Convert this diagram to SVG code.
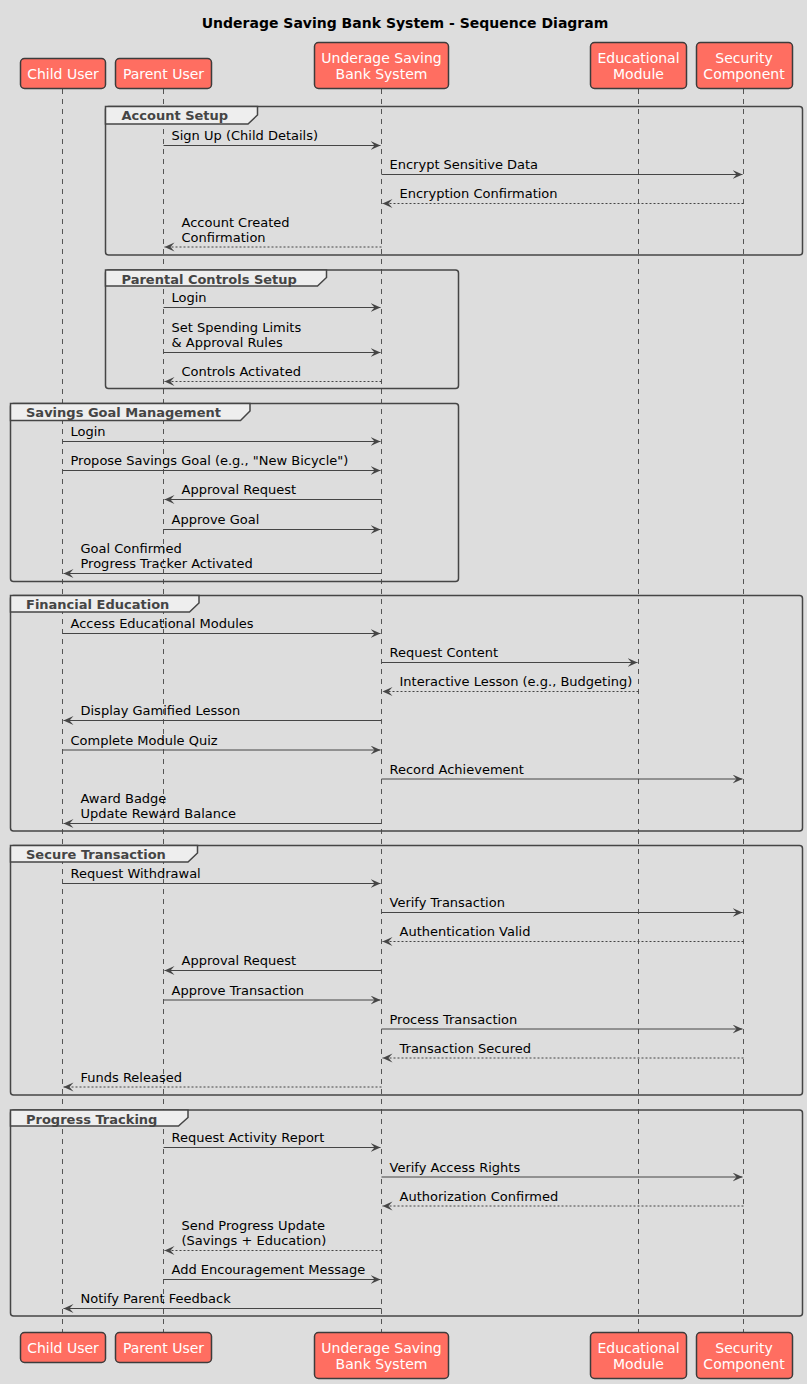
<svg xmlns="http://www.w3.org/2000/svg" width="807" height="1384" viewBox="0 0 807 1384">
  <style>
    .bg { fill: #DDDDDD; }
    .title { font-family: "DejaVu Sans", "Liberation Sans", sans-serif; font-size: 14px; font-weight: bold; fill: #000000; }
    .pbox { fill: #FF6E61; stroke: #3C3C3C; stroke-width: 1.5; }
    .ptext { font-family: "DejaVu Sans", "Liberation Sans", sans-serif; font-size: 14px; fill: #FFFFFF; text-anchor: middle; }
    .life { stroke: #555555; stroke-width: 1; stroke-dasharray: 5,5; fill: none; }
    .frame { fill: none; stroke: #454545; stroke-width: 1.5; }
    .tab { fill: #EEEEEE; stroke: #454545; stroke-width: 1.5; }
    .glabel { font-family: "DejaVu Sans", "Liberation Sans", sans-serif; font-size: 13px; font-weight: bold; fill: #454545; }
    .msg { stroke: #454545; stroke-width: 1; fill: none; marker-end: url(#arrow); }
    .ret { stroke: #454545; stroke-width: 1; fill: none; stroke-dasharray: 2,2; marker-end: url(#arrow); }
    .mtext { font-family: "DejaVu Sans", "Liberation Sans", sans-serif; font-size: 13px; fill: #000000; }
  </style>
  <defs>
    <marker id="arrow" markerUnits="userSpaceOnUse" markerWidth="12" markerHeight="10" refX="10" refY="4.5" orient="auto">
      <path d="M0,0 L10,4.5 L0,9 L4,4.5 Z" fill="#454545" stroke="none"/>
    </marker>
  </defs>

  <rect class="bg" x="0" y="0" width="807" height="1384"/>

  <text class="title" x="405" y="28" text-anchor="middle">Underage Saving Bank System - Sequence Diagram</text>

  <!-- lifelines -->
  <g id="lifelines">
    <line class="life" x1="62.5" y1="89" x2="62.5" y2="1332"/>
    <line class="life" x1="163.5" y1="89" x2="163.5" y2="1332"/>
    <line class="life" x1="381.5" y1="89" x2="381.5" y2="1332"/>
    <line class="life" x1="638.5" y1="89" x2="638.5" y2="1332"/>
    <line class="life" x1="743.5" y1="89" x2="743.5" y2="1332"/>
  </g>

  <!-- groups (fragments) -->
  <g id="group-account-setup">
    <rect class="frame" x="105.5" y="106.5" width="697" height="148.5" rx="3"/>
    <path class="tab" d="M105.5,106.5 H257.5 V115 L248,124 H105.5 Z"/>
    <text class="glabel" x="121.5" y="120">Account Setup</text>
  </g>
  <g id="group-parental-controls">
    <rect class="frame" x="105.5" y="270" width="353" height="118.5" rx="3"/>
    <path class="tab" d="M105.5,270 H326.5 V277.5 L317.5,286 H105.5 Z"/>
    <text class="glabel" x="121.5" y="283.5">Parental Controls Setup</text>
  </g>
  <g id="group-savings-goal">
    <rect class="frame" x="10.5" y="403.5" width="448" height="178" rx="3"/>
    <path class="tab" d="M10.5,403.5 H250 V411 L240.5,420.5 H10.5 Z"/>
    <text class="glabel" x="26" y="417">Savings Goal Management</text>
  </g>
  <g id="group-financial-education">
    <rect class="frame" x="10.5" y="595.5" width="792" height="235.5" rx="3"/>
    <path class="tab" d="M10.5,595.5 H199 V603 L189.5,612 H10.5 Z"/>
    <text class="glabel" x="26" y="609">Financial Education</text>
  </g>
  <g id="group-secure-transaction">
    <rect class="frame" x="10.5" y="845.5" width="792" height="249.5" rx="3"/>
    <path class="tab" d="M10.5,845.5 H197.5 V853 L188,862 H10.5 Z"/>
    <text class="glabel" x="26" y="859">Secure Transaction</text>
  </g>
  <g id="group-progress-tracking">
    <rect class="frame" x="10.5" y="1110" width="792" height="206" rx="3"/>
    <path class="tab" d="M10.5,1110 H188 V1117.5 L178.5,1126 H10.5 Z"/>
    <text class="glabel" x="26" y="1123.5">Progress Tracking</text>
  </g>

  <!-- participants (top) -->
  <g id="child-user-top">
    <rect class="pbox" x="20.5" y="58.5" width="85" height="30" rx="4"/>
    <text class="ptext" x="63" y="79">Child User</text>
  </g>
  <g id="parent-user-top">
    <rect class="pbox" x="115.5" y="58.5" width="96" height="30" rx="4"/>
    <text class="ptext" x="163.5" y="79">Parent User</text>
  </g>
  <g id="bank-system-top">
    <rect class="pbox" x="314.5" y="42.5" width="134" height="46" rx="4"/>
    <text class="ptext" x="381.5" y="63">Underage Saving</text>
    <text class="ptext" x="381.5" y="79">Bank System</text>
  </g>
  <g id="educational-module-top">
    <rect class="pbox" x="590.5" y="42.5" width="96" height="46" rx="4"/>
    <text class="ptext" x="638.5" y="63">Educational</text>
    <text class="ptext" x="638.5" y="79">Module</text>
  </g>
  <g id="security-component-top">
    <rect class="pbox" x="696.5" y="42.5" width="96" height="46" rx="4"/>
    <text class="ptext" x="744" y="63">Security</text>
    <text class="ptext" x="744" y="79">Component</text>
  </g>

  <!-- participants (bottom) -->
  <g id="child-user-bottom">
    <rect class="pbox" x="20.5" y="1332.5" width="85" height="30" rx="4"/>
    <text class="ptext" x="63" y="1353">Child User</text>
  </g>
  <g id="parent-user-bottom">
    <rect class="pbox" x="115.5" y="1332.5" width="96" height="30" rx="4"/>
    <text class="ptext" x="163.5" y="1353">Parent User</text>
  </g>
  <g id="bank-system-bottom">
    <rect class="pbox" x="314.5" y="1332.5" width="134" height="46" rx="4"/>
    <text class="ptext" x="381.5" y="1353">Underage Saving</text>
    <text class="ptext" x="381.5" y="1369">Bank System</text>
  </g>
  <g id="educational-module-bottom">
    <rect class="pbox" x="590.5" y="1332.5" width="96" height="46" rx="4"/>
    <text class="ptext" x="638.5" y="1353">Educational</text>
    <text class="ptext" x="638.5" y="1369">Module</text>
  </g>
  <g id="security-component-bottom">
    <rect class="pbox" x="696.5" y="1332.5" width="96" height="46" rx="4"/>
    <text class="ptext" x="744" y="1353">Security</text>
    <text class="ptext" x="744" y="1369">Component</text>
  </g>

  <!-- messages -->
  <g id="connectors">
    <!-- Account Setup -->
    <line class="msg" x1="163.5" y1="145.5" x2="380.5" y2="145.5"/>
    <text class="mtext" x="171.5" y="140">Sign Up (Child Details)</text>
    <line class="msg" x1="381.5" y1="174.5" x2="742.5" y2="174.5"/>
    <text class="mtext" x="389.5" y="169">Encrypt Sensitive Data</text>
    <line class="ret" x1="743.5" y1="203.5" x2="382.5" y2="203.5"/>
    <text class="mtext" x="399.5" y="198">Encryption Confirmation</text>
    <line class="ret" x1="381.5" y1="247" x2="164.5" y2="247"/>
    <text class="mtext" x="181.5" y="226.5">Account Created</text>
    <text class="mtext" x="181.5" y="241.5">Confirmation</text>

    <!-- Parental Controls Setup -->
    <line class="msg" x1="163.5" y1="307.5" x2="380.5" y2="307.5"/>
    <text class="mtext" x="171.5" y="302">Login</text>
    <line class="msg" x1="163.5" y1="352.5" x2="380.5" y2="352.5"/>
    <text class="mtext" x="171.5" y="332">Set Spending Limits</text>
    <text class="mtext" x="171.5" y="347">&amp; Approval Rules</text>
    <line class="ret" x1="381.5" y1="381.5" x2="164.5" y2="381.5"/>
    <text class="mtext" x="181.5" y="376">Controls Activated</text>

    <!-- Savings Goal Management -->
    <line class="msg" x1="62.5" y1="441.5" x2="380.5" y2="441.5"/>
    <text class="mtext" x="70.5" y="436">Login</text>
    <line class="msg" x1="62.5" y1="470.5" x2="380.5" y2="470.5"/>
    <text class="mtext" x="70.5" y="465">Propose Savings Goal (e.g., "New Bicycle")</text>
    <line class="msg" x1="381.5" y1="499.5" x2="164.5" y2="499.5"/>
    <text class="mtext" x="181.5" y="494">Approval Request</text>
    <line class="msg" x1="163.5" y1="529.5" x2="380.5" y2="529.5"/>
    <text class="mtext" x="171.5" y="524">Approve Goal</text>
    <line class="msg" x1="381.5" y1="573.5" x2="63.5" y2="573.5"/>
    <text class="mtext" x="80.5" y="553">Goal Confirmed</text>
    <text class="mtext" x="80.5" y="568">Progress Tracker Activated</text>

    <!-- Financial Education -->
    <line class="msg" x1="62.5" y1="633.5" x2="380.5" y2="633.5"/>
    <text class="mtext" x="70.5" y="628">Access Educational Modules</text>
    <line class="msg" x1="381.5" y1="662.5" x2="637.5" y2="662.5"/>
    <text class="mtext" x="389.5" y="657">Request Content</text>
    <line class="ret" x1="638.5" y1="691.5" x2="382.5" y2="691.5"/>
    <text class="mtext" x="399.5" y="686">Interactive Lesson (e.g., Budgeting)</text>
    <line class="msg" x1="381.5" y1="720.5" x2="63.5" y2="720.5"/>
    <text class="mtext" x="80.5" y="715">Display Gamified Lesson</text>
    <line class="msg" x1="62.5" y1="750" x2="380.5" y2="750"/>
    <text class="mtext" x="70.5" y="744.5">Complete Module Quiz</text>
    <line class="msg" x1="381.5" y1="779" x2="742.5" y2="779"/>
    <text class="mtext" x="389.5" y="773.5">Record Achievement</text>
    <line class="msg" x1="381.5" y1="823.5" x2="63.5" y2="823.5"/>
    <text class="mtext" x="80.5" y="803">Award Badge</text>
    <text class="mtext" x="80.5" y="818">Update Reward Balance</text>

    <!-- Secure Transaction -->
    <line class="msg" x1="62.5" y1="883.5" x2="380.5" y2="883.5"/>
    <text class="mtext" x="70.5" y="878">Request Withdrawal</text>
    <line class="msg" x1="381.5" y1="912.5" x2="742.5" y2="912.5"/>
    <text class="mtext" x="389.5" y="907">Verify Transaction</text>
    <line class="ret" x1="743.5" y1="941.5" x2="382.5" y2="941.5"/>
    <text class="mtext" x="399.5" y="936">Authentication Valid</text>
    <line class="msg" x1="381.5" y1="970.5" x2="164.5" y2="970.5"/>
    <text class="mtext" x="181.5" y="965">Approval Request</text>
    <line class="msg" x1="163.5" y1="1000" x2="380.5" y2="1000"/>
    <text class="mtext" x="171.5" y="994.5">Approve Transaction</text>
    <line class="msg" x1="381.5" y1="1029" x2="742.5" y2="1029"/>
    <text class="mtext" x="389.5" y="1023.5">Process Transaction</text>
    <line class="ret" x1="743.5" y1="1058" x2="382.5" y2="1058"/>
    <text class="mtext" x="399.5" y="1052.5">Transaction Secured</text>
    <line class="ret" x1="381.5" y1="1087" x2="63.5" y2="1087"/>
    <text class="mtext" x="80.5" y="1081.5">Funds Released</text>

    <!-- Progress Tracking -->
    <line class="msg" x1="163.5" y1="1147.5" x2="380.5" y2="1147.5"/>
    <text class="mtext" x="171.5" y="1142">Request Activity Report</text>
    <line class="msg" x1="381.5" y1="1177" x2="742.5" y2="1177"/>
    <text class="mtext" x="389.5" y="1171.5">Verify Access Rights</text>
    <line class="ret" x1="743.5" y1="1206" x2="382.5" y2="1206"/>
    <text class="mtext" x="399.5" y="1200.5">Authorization Confirmed</text>
    <line class="ret" x1="381.5" y1="1250.5" x2="164.5" y2="1250.5"/>
    <text class="mtext" x="181.5" y="1230">Send Progress Update</text>
    <text class="mtext" x="181.5" y="1245">(Savings + Education)</text>
    <line class="msg" x1="163.5" y1="1279.5" x2="380.5" y2="1279.5"/>
    <text class="mtext" x="171.5" y="1274">Add Encouragement Message</text>
    <line class="msg" x1="381.5" y1="1308.5" x2="63.5" y2="1308.5"/>
    <text class="mtext" x="80.5" y="1303">Notify Parent Feedback</text>
  </g>
</svg>
